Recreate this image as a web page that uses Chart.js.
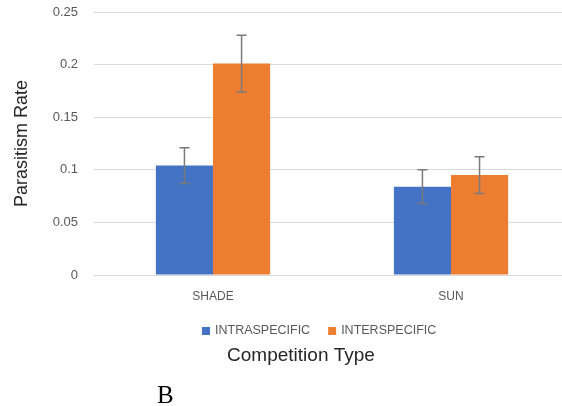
<!DOCTYPE html>
<html lang="en">
<head>
    <meta charset="UTF-8">
    <title>Parasitism Rate by Competition Type</title>
    <script src="https://cdn.jsdelivr.net/npm/chart.js"></script>
    <style>
        html, body { margin: 0; padding: 0; background: #fff; }
        .wrap { position: relative; width: 562px; height: 406px; overflow: hidden; }
        /* panel letter under the chart */
        .panel { position: absolute; left: 157px; top: 381px; font-family: "Liberation Serif", "DejaVu Serif", serif; font-size: 25px; color: #000; }
    </style>
</head>
<body>
<div class="wrap">
    <canvas id="chart" width="570" height="406"></canvas>
    <div class="panel">B</div>
</div>
<script>
    // data
    const categories = ["SHADE", "SUN"];
    const seriesNames = ["INTRASPECIFIC", "INTERSPECIFIC"];
    const intraValues = [0.104, 0.084];
    const intraErrors = [0.017, 0.016];
    const interValues = [0.201, 0.095];
    const interErrors = [0.027, 0.0175];
    const yTicks = ["0", "0.05", "0.1", "0.15", "0.2", "0.25"];
    const xTitle = "Competition Type";
    const yTitle = "Parasitism Rate";

    const colors = ["#4472C4", "#ED7D31"];

    // error bars, drawn with the scales
    const errorBars = {
        id: "errorBars",
        afterDatasetsDraw(chart) {
            const ctx = chart.ctx;
            const y = chart.scales.y;
            ctx.save();
            ctx.strokeStyle = "#7a7a7a";
            ctx.lineWidth = 1.5;
            chart.data.datasets.forEach((ds, di) => {
                const meta = chart.getDatasetMeta(di);
                meta.data.forEach((bar, i) => {
                    const v = ds.data[i], e = ds.errors[i];
                    const top = y.getPixelForValue(v + e);
                    const bot = y.getPixelForValue(v - e);
                    const x = bar.x;
                    ctx.beginPath();
                    ctx.moveTo(x, top); ctx.lineTo(x, bot);
                    ctx.moveTo(x - 5, top); ctx.lineTo(x + 5, top);
                    ctx.moveTo(x - 5, bot); ctx.lineTo(x + 5, bot);
                    ctx.stroke();
                });
            });
            ctx.restore();
        }
    };

    // legend + x axis title, placed like the original
    const bottomText = {
        id: "bottomText",
        afterDraw(chart) {
            const ctx = chart.ctx;
            ctx.save();
            ctx.textBaseline = "middle";
            ctx.font = "12.5px 'Liberation Sans', Arial, sans-serif";
            const legendY = 331;
            let lx = 202;
            chart.data.datasets.forEach((ds) => {
                ctx.fillStyle = ds.backgroundColor;
                ctx.fillRect(lx, legendY - 4, 8, 8);
                ctx.fillStyle = "#595959";
                ctx.textAlign = "left";
                ctx.fillText(ds.label, lx + 13, legendY);
                lx += 13 + ctx.measureText(ds.label).width + 18;
            });
            ctx.font = "19px 'Liberation Sans', Arial, sans-serif";
            ctx.fillStyle = "#262626";
            ctx.textAlign = "center";
            ctx.fillText(xTitle, 301, 356);
            ctx.restore();
        }
    };

    new Chart(document.getElementById("chart"), {
        type: "bar",
        data: {
            labels: categories,
            datasets: [
                { label: seriesNames[0], data: intraValues, errors: intraErrors, backgroundColor: colors[0] },
                { label: seriesNames[1], data: interValues, errors: interErrors, backgroundColor: colors[1] }
            ]
        },
        options: {
            responsive: false,
            animation: false,
            layout: { padding: { top: 12, left: 0, right: 0, bottom: 0 } },
            categoryPercentage: 0.48,
            barPercentage: 1.0,
            plugins: { legend: { display: false }, tooltip: { enabled: false } },
            scales: {
                x: {
                    grid: { display: false },
                    border: { display: true, color: "#d9d9d9" },
                    ticks: { color: "#595959", font: { size: 12, family: "'Liberation Sans', Arial, sans-serif" }, padding: 6 },
                    afterFit: (s) => { s.height = 131; }
                },
                y: {
                    min: 0,
                    max: 0.25,
                    grid: { color: "#d9d9d9", drawTicks: false },
                    border: { display: false },
                    ticks: {
                        stepSize: 0.05,
                        padding: 16,
                        color: "#595959",
                        font: { size: 13, family: "'Liberation Sans', Arial, sans-serif" },
                        callback: (v, i) => yTicks[i]
                    },
                    title: {
                        display: true,
                        text: yTitle,
                        color: "#262626",
                        font: { size: 18, family: "'Liberation Sans', Arial, sans-serif" },
                        padding: { top: 11, bottom: 0 }
                    },
                    afterFit: (s) => { s.width = 94; s.paddingTop = 0; s.paddingBottom = 0; }
                }
            }
        },
        plugins: [errorBars, bottomText]
    });
</script>
</body>
</html>
